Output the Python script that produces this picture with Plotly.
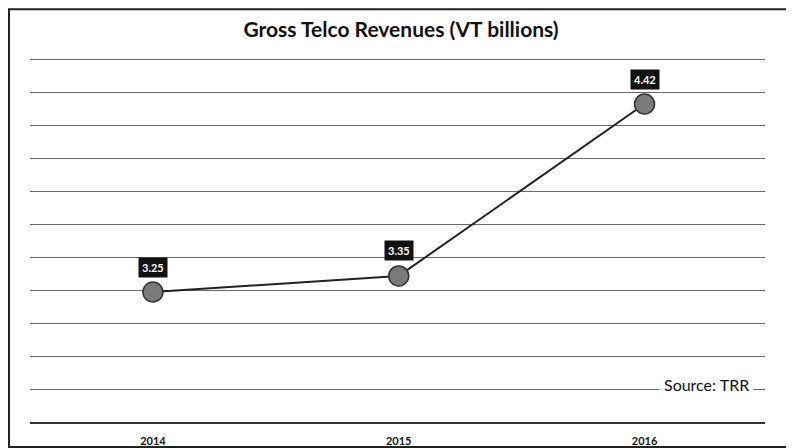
import plotly.graph_objects as go

years = ["2014", "2015", "2016"]
revenues = [3.25, 3.35, 4.42]
labels = ["3.25", "3.35", "4.42"]
title_text = "Gross Telco Revenues (VT billions)"
source_text = "Source: TRR"

fig = go.Figure()
fig.add_trace(go.Scatter(
    x=years, y=revenues, mode="lines+markers",
    line=dict(color="#222222", width=2),
    marker=dict(size=20, color="#7a7a7a", line=dict(color="#333333", width=1.5)),
    hoverinfo="skip", showlegend=False,
))

annotations = []
for i, (v, lab) in enumerate(zip(revenues, labels)):
    annotations.append(dict(
        x=i, y=v, xref="x", yref="y", text="<b>" + lab + "</b>", showarrow=False,
        yshift=25, bgcolor="#111111", font=dict(color="white", size=11, family="Lato"),
        borderpad=3,
    ))
annotations.append(dict(
    x=0.985, y=0.1035, xref="paper", yref="paper", text=source_text, showarrow=False,
    xanchor="right", yanchor="middle", bgcolor="white",
    font=dict(color="#111111", size=16, family="Lato"),
    borderpad=4,
))

fig.update_layout(
    width=786, height=440,
    paper_bgcolor="white", plot_bgcolor="white",
    margin=dict(l=22, r=29, t=47, b=26),
    title=dict(text="<b>" + title_text + "</b>", x=0.5, xanchor="center", y=0.95, yanchor="middle",
               font=dict(size=21, color="#111111", family="Lato")),
    xaxis=dict(type="category", range=[-0.5, 2.49], showgrid=False, zeroline=False,
               showline=True, linecolor="#333333", linewidth=1.5, ticks="",
               tickfont=dict(size=11, color="#111111", family="Lato"),
               ticklabelstandoff=8, automargin=False),
    yaxis=dict(range=[2.441, 4.725], tick0=2.441, dtick=0.205, showticklabels=False,
               showgrid=True, gridcolor="#6a6a6a", gridwidth=1, zeroline=False, showline=False,
               automargin=False),
    annotations=annotations,
    shapes=[dict(type="rect", xref="paper", yref="paper", x0=-0.0286, x1=1.038, y0=-0.068, y1=1.125,
                 line=dict(color="#222222", width=2), fillcolor="rgba(0,0,0,0)")],
    font=dict(family="Lato"),
)
fig.update_xaxes(tickvals=[0, 1, 2], ticktext=["<b>" + y + "</b>" for y in years])

fig.write_html("out.html", config={"displayModeBar": False})
